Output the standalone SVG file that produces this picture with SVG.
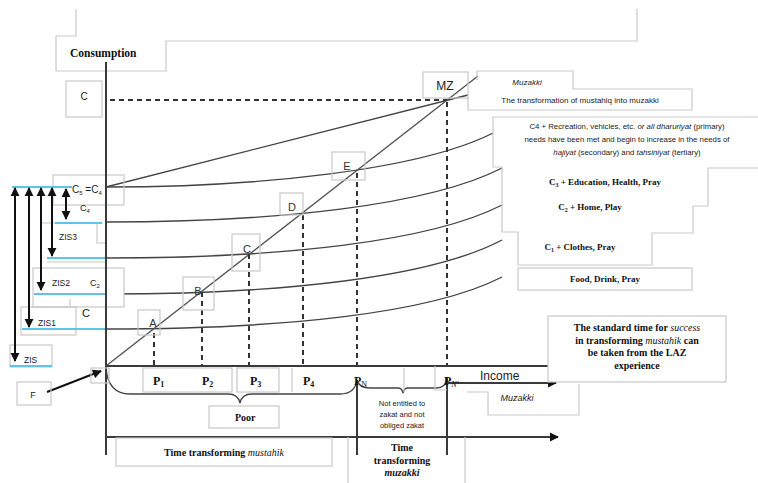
<svg xmlns="http://www.w3.org/2000/svg" width="758" height="483" viewBox="0 0 758 483">
<style>
.box{fill:none;stroke:#c9c9c9;stroke-width:1.2}
.wbox{fill:#fff;stroke:#c9c9c9;stroke-width:1.2}
.curve{fill:none;stroke:#444;stroke-width:1.4}
.dash{fill:none;stroke:#333;stroke-width:2;stroke-dasharray:5,4}
.axis{fill:none;stroke:#3a3a3a;stroke-width:2}
.blue{stroke:#5ec4ea;stroke-width:2}
.arr{stroke:#111;stroke-width:2;fill:none}
.sans{font-family:"Liberation Sans",Arial,sans-serif;fill:#222}
.serif{font-family:"Liberation Serif","Times New Roman",serif;fill:#111;font-weight:bold}
.lbl{font-family:"Liberation Sans",Arial,sans-serif;font-size:11px;fill:#333}
</style>
<defs>
<marker id="ah" viewBox="0 0 10 10" refX="9" refY="5" markerWidth="9" markerHeight="10" markerUnits="userSpaceOnUse" orient="auto-start-reverse">
<path d="M0,0 L10,5 L0,10 z" fill="#111"/>
</marker>
</defs>

<!-- top frame boxes -->
<g id="frame-top">
<path class="box" d="M56,71 L56,36 L76,36 L76,9 M56,71 L166,71 L166,41 L637,41 L637,9"/>
</g>

<!-- curves under boxes -->
<g id="connectors">
<path class="curve" d="M106,187 C260,187 420,170 493,133"/>
<path class="curve" d="M106,222 C280,222 430,205 502,168"/>
<path class="curve" d="M106,258 C280,258 430,242 502,205"/>
<path class="curve" d="M106,294 C280,294 430,278 502,240"/>
<path class="curve" d="M106,329 C280,329 430,314 502,277"/>
<line class="curve" x1="106" y1="187" x2="468" y2="95"/>
<line x1="106" y1="366" x2="478" y2="76" stroke="#555" stroke-width="1.4"/>
<line class="dash" x1="110" y1="100" x2="447" y2="100"/>
<line class="dash" x1="154" y1="333" x2="154" y2="366"/>
<line class="dash" x1="202" y1="292" x2="202" y2="366"/>
<line class="dash" x1="249" y1="254" x2="249" y2="366"/>
<line class="dash" x1="303" y1="215" x2="303" y2="366"/>
<line class="dash" x1="357" y1="173" x2="357" y2="366"/>
<line class="dash" x1="447" y1="102" x2="447" y2="366"/>
<!-- braces -->
<path class="curve" d="M106,368 Q108,394 130,394 L228,394 Q238,394 240,403 Q242,394 252,394 L340,394 Q355,394 357,380"/>
<path class="curve" d="M357,380 Q359,388 370,388 L398,388 Q402,388 403,393 Q404,388 408,388 L436,388 Q446,388 447,378"/>
</g>

<!-- left boxes -->
<g id="left-boxes">
<rect class="box" x="53" y="175" width="71" height="30"/>
<path class="box" d="M41,223 L55,223 M97,223 L97,243 L106,243 M47,262 L106,262"/>
<rect class="wbox" x="33" y="268" width="91" height="39"/>
<path class="box" d="M70,299 L70,307"/>
<rect class="box" x="21" y="307" width="55" height="28"/>
<rect class="box" x="10" y="345" width="42" height="22"/>
</g>

<!-- left arrows and blue lines -->
<g id="zis-arrows">
<line class="blue" x1="12" y1="187" x2="72" y2="187"/>
<line class="blue" x1="55" y1="223" x2="102" y2="223"/>
<line class="blue" x1="47" y1="258" x2="106" y2="258"/>
<line class="blue" x1="34" y1="294" x2="106" y2="294"/>
<line class="blue" x1="22" y1="329" x2="106" y2="329"/>
<line class="blue" x1="10" y1="366" x2="52" y2="366"/>
<line class="arr" x1="15" y1="188" x2="15" y2="361" marker-start="url(#ah)" marker-end="url(#ah)"/>
<line class="arr" x1="29" y1="188" x2="29" y2="327" marker-start="url(#ah)" marker-end="url(#ah)"/>
<line class="arr" x1="41" y1="188" x2="41" y2="290" marker-start="url(#ah)" marker-end="url(#ah)"/>
<line class="arr" x1="52" y1="188" x2="52" y2="256" marker-start="url(#ah)" marker-end="url(#ah)"/>
<line class="arr" x1="66" y1="189" x2="66" y2="219" marker-start="url(#ah)" marker-end="url(#ah)"/>
</g>

<!-- axes -->
<g id="axes">
<line class="axis" x1="106" y1="62" x2="106" y2="455"/>
<line class="axis" x1="106" y1="366" x2="548" y2="366"/>
<line class="axis" x1="106" y1="437" x2="558" y2="437" marker-end="url(#ah)"/>
<line class="axis" x1="447" y1="383" x2="556" y2="383" marker-end="url(#ah)"/>
<line class="axis" x1="357" y1="380" x2="357" y2="455"/>
<line class="axis" x1="447" y1="378" x2="447" y2="455"/>
<line class="arr" x1="47" y1="392" x2="101" y2="371" marker-end="url(#ah)"/>
</g>

<g id="consumption"><text class="serif" x="70" y="57" font-size="11.5">Consumption</text></g>
<g id="c-top"><rect class="box" x="66" y="81" width="36" height="36"/><text class="sans" x="84" y="100" font-size="10" text-anchor="middle">C</text></g>

<g id="lbl-left" class="sans">
<text x="72" y="193" font-size="10">C<tspan font-size="6" dy="2">5</tspan><tspan dy="-2"> =C</tspan><tspan font-size="6" dy="2">4</tspan></text>
<text x="80" y="211" font-size="9">C<tspan font-size="6" dy="2">4</tspan></text>
<text x="59" y="240" font-size="8.5">ZIS3</text>
<text x="52" y="286" font-size="8.5">ZIS2</text>
<text x="90" y="286" font-size="9">C<tspan font-size="6" dy="2">2</tspan></text>
<text x="82" y="317" font-size="11">C</text>
<text x="38" y="326" font-size="8.5">ZIS1</text>
<text x="24" y="363" font-size="8.5">ZIS</text>
</g>

<g id="node-F"><rect class="box" x="17" y="382" width="34" height="23"/><text class="sans" x="33" y="398" font-size="9" text-anchor="middle">F</text><rect class="box" x="91" y="368" width="18" height="15"/></g>

<g id="node-A"><rect class="box" x="138" y="310" width="22" height="25"/><text class="lbl" x="153" y="327" text-anchor="middle">A</text></g>
<g id="node-B"><rect class="box" x="183" y="277" width="31" height="33"/><text class="lbl" x="198" y="295" text-anchor="middle">B</text></g>
<g id="node-C"><rect class="box" x="232" y="234" width="28" height="37"/><text class="lbl" x="247" y="253" text-anchor="middle">C</text></g>
<g id="node-D"><rect class="box" x="280" y="193" width="23" height="22"/><text class="lbl" x="292" y="211" text-anchor="middle">D</text></g>
<g id="node-E"><rect class="box" x="332" y="152" width="33" height="28"/><text class="lbl" x="347" y="170" text-anchor="middle">E</text></g>

<g id="node-MZ"><rect class="box" x="423" y="72" width="45" height="26"/><text class="sans" x="445" y="90" font-size="12" fill="#333" text-anchor="middle">MZ</text></g>

<g id="node-muzakki-top">
<path class="box" d="M477,80 L477,71 L573,71 L573,89 L692,89 L692,110 L468,110 L468,97"/>
<text class="sans" x="527" y="85" font-size="8" font-style="italic" text-anchor="middle">Muzakki</text>
<text class="sans" x="580" y="103" font-size="8" text-anchor="middle">The transformation of mustahiq  into muzakki</text>
</g>

<g id="node-stairs">
<path class="box" d="M758,117 L493,117 L493,167 L502,167 L502,232 L518,232 L518,265 L652,265 L652,233 L693,233 L693,206 L708,206 L708,168 L758,168"/>
<text class="sans" x="627" y="129" font-size="7.8" text-anchor="middle">C4 + Recreation, vehicles, etc. <tspan font-style="italic">or all dharuriyat</tspan> (primary)</text>
<text class="sans" x="627" y="142" font-size="7.8" text-anchor="middle">needs have been met and begin to increase in the needs of</text>
<text class="sans" x="627" y="155" font-size="7.8" text-anchor="middle"><tspan font-style="italic">hajiyat</tspan> (secondary) and <tspan font-style="italic">tahsiniyat</tspan> (tertiary)</text>
<text class="serif" x="605" y="185" font-size="9" text-anchor="middle">C<tspan font-size="6" dy="2">3</tspan><tspan dy="-2"> + Education, Health,  Pray</tspan></text>
<text class="serif" x="590" y="210" font-size="9" text-anchor="middle">C<tspan font-size="6" dy="2">2</tspan><tspan dy="-2"> + Home, Play</tspan></text>
<text class="serif" x="580" y="250" font-size="9" text-anchor="middle">C<tspan font-size="6" dy="2">1</tspan><tspan dy="-2"> + Clothes, Pray</tspan></text>
</g>

<g id="node-food"><rect class="box" x="518" y="268" width="174" height="22"/><text class="serif" x="605" y="282" font-size="9" text-anchor="middle">Food, Drink,  Pray</text></g>

<g id="node-standard">
<rect class="wbox" x="548" y="316" width="178" height="66"/>
<g class="serif" font-size="10" text-anchor="middle">
<text x="637" y="331">The standard time for <tspan font-style="italic" font-weight="normal">success</tspan></text>
<text x="637" y="344">in transforming <tspan font-style="italic" font-weight="normal">mustahik</tspan> can</text>
<text x="637" y="356">be taken from the LAZ</text>
<text x="637" y="369">experience</text>
</g>
</g>

<g id="p-labels">
<rect class="box" x="143" y="368" width="89" height="24"/>
<rect class="box" x="237" y="368" width="42" height="24"/>
<path class="box" d="M292,368 L292,392 M404,368 L404,392"/>
<path class="box" d="M435,366 L435,390 L447,390"/>
<g class="serif" font-size="12">
<text x="153" y="385">P<tspan font-size="8" dy="2">1</tspan></text>
<text x="202" y="385">P<tspan font-size="8" dy="2">2</tspan></text>
<text x="250" y="385">P<tspan font-size="8" dy="2">3</tspan></text>
<text x="303" y="385">P<tspan font-size="8" dy="2">4</tspan></text>
<text x="354" y="385">P<tspan font-size="8" dy="2" font-weight="normal">N</tspan></text>
<text x="444" y="385">P<tspan font-size="8" dy="2" font-style="italic" font-weight="normal">N'</tspan></text>
</g>
<text class="sans" x="480" y="380" font-size="12" fill="#333">Income</text>
</g>

<g id="node-muzakki-bottom">
<path class="box" d="M467,392 L488,392 L488,415 L579,415 L579,384"/>
<text class="sans" x="517" y="401" font-size="9" font-style="italic" text-anchor="middle">Muzakki</text>
</g>

<g id="node-poor"><rect class="box" x="209" y="406" width="70" height="22"/><text class="serif" x="235" y="421" font-size="10">Poor</text></g>

<g id="node-not-entitled" class="sans" font-size="7.5" text-anchor="middle">
<text x="402" y="406">Not entitled to</text>
<text x="402" y="417">zakat and not</text>
<text x="402" y="428">obliged zakat</text>
</g>

<g id="node-time-mustahik"><rect class="box" x="116" y="438" width="216" height="28"/><text class="serif" x="224" y="456" font-size="10" text-anchor="middle">Time transforming <tspan font-style="italic" font-weight="normal">mustahik</tspan></text></g>

<g id="node-time-muzakki"><path class="box" d="M348,437 L348,483 M465,437 L465,483"/>
<text class="serif" x="402" y="451" font-size="10" text-anchor="middle">Time</text>
<text class="serif" x="402" y="464" font-size="10" text-anchor="middle">transforming</text>
<text class="serif" x="402" y="476" font-size="10" font-style="italic" font-weight="normal" text-anchor="middle">muzakki</text>
</g>
</svg>
